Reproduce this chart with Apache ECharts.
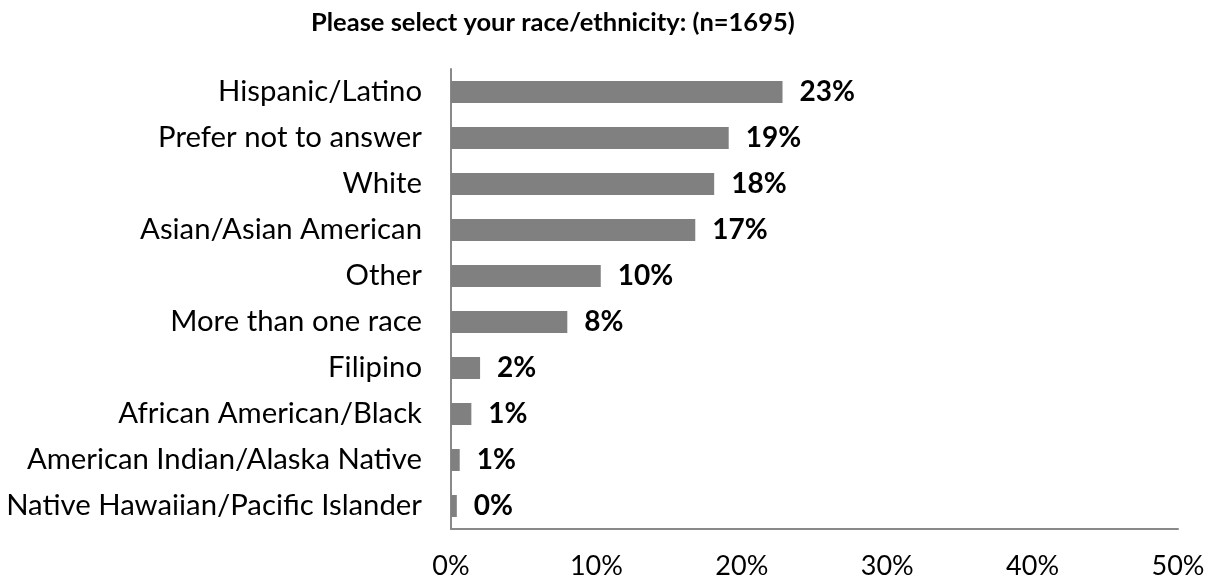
<!DOCTYPE html>
<html>
<head>
<meta charset="utf-8">
<script src="https://cdn.jsdelivr.net/npm/echarts@6/dist/echarts.min.js"></script>
<style>
  html, body { margin: 0; padding: 0; background: #fff; }
  #chart { width: 1215px; height: 584px; }
</style>
</head>
<body>
<div id="chart"></div>
<script>
// categories, top to bottom
const categories = [
  'Hispanic/Latino',
  'Prefer not to answer',
  'White',
  'Asian/Asian American',
  'Other',
  'More than one race',
  'Filipino',
  'African American/Black',
  'American Indian/Alaska Native',
  'Native Hawaiian/Pacific Islander'
];
// percent values
const values = [22.8, 19.1, 18.1, 16.8, 10.3, 8.0, 2.0, 1.4, 0.6, 0.4];
const xTicks = [0, 10, 20, 30, 40, 50];

const chart = echarts.init(document.getElementById('chart'));
const font = 'Lato, "Open Sans", sans-serif';

chart.setOption({
  animation: false,
  backgroundColor: '#fff',
  title: {
    text: 'Please select your race/ethnicity: (n=1695)',
    left: 306,
    top: 5,
    textStyle: {
      fontFamily: font,
      fontSize: 25.5,
      fontWeight: 'bold',
      color: '#000'
    }
  },
  grid: {
    left: 451,
    right: 37,
    top: 69,
    bottom: 55
  },
  xAxis: {
    type: 'value',
    min: xTicks[0],
    max: xTicks[xTicks.length - 1],
    interval: 10,
    axisLine: { show: true, lineStyle: { color: '#898989', width: 2 } },
    axisTick: { show: false },
    splitLine: { show: false },
    axisLabel: {
      margin: 24,
      fontFamily: font,
      fontSize: 27,
      color: '#000',
      formatter: v => v + '%'
    }
  },
  yAxis: {
    type: 'category',
    inverse: true,
    data: categories,
    axisLine: { show: true, lineStyle: { color: '#898989', width: 2 } },
    axisTick: { show: false },
    axisLabel: {
      margin: 29,
      fontFamily: font,
      fontSize: 29.3,
      color: '#000'
    }
  },
  series: [{
    type: 'bar',
    data: values,
    barWidth: 22,
    itemStyle: { color: '#808080' },
    label: {
      show: true,
      position: 'right',
      distance: 17,
      fontFamily: font,
      fontSize: 28,
      fontWeight: 'bold',
      color: '#000',
      formatter: p => Math.round(p.value) + '%'
    }
  }]
});
</script>
</body>
</html>
